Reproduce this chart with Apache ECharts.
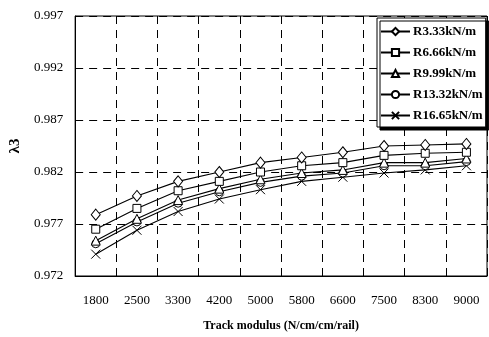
<!DOCTYPE html>
<html><head><meta charset="utf-8">
<script src="https://cdn.jsdelivr.net/npm/echarts@6/dist/echarts.min.js"></script>
<style>html,body{margin:0;padding:0;background:#fff}#c{width:489px;height:337px}</style>
</head><body><div id="c"></div>
<script>
const categories = ['1800','2500','3300','4200','5000','5800','6600','7500','8300','9000'];
const seriesNames = ['R3.33kN/m','R6.66kN/m','R9.99kN/m','R13.32kN/m','R16.65kN/m'];
const r333  = [0.9779,0.9797,0.9811,0.9820,0.9829,0.9834,0.9839,0.9845,0.9846,0.9847];
const r666  = [0.9765,0.9785,0.9802,0.9811,0.9820,0.9826,0.9829,0.9836,0.9838,0.9839];
const r999  = [0.9754,0.9775,0.9793,0.9804,0.9813,0.9819,0.9822,0.9829,0.9829,0.9833];
const r1332 = [0.9751,0.9772,0.9790,0.9801,0.9810,0.9816,0.9819,0.9826,0.9826,0.9830];
const r1665 = [0.9741,0.9764,0.9782,0.9794,0.9803,0.9811,0.9815,0.9819,0.9822,0.9826];
const yTicks = [0.972,0.977,0.982,0.987,0.992,0.997];

const symbols = ['diamond','rect','triangle','circle','path://M0,0L10,10M10,0L0,10'];
const sizes = [[9,11],8,[9,9],8,[9,9]];
const zs = [6,5,4,3,2];
const data = [r333,r666,r999,r1332,r1665];
const font = 'Liberation Serif';

const chart = echarts.init(document.getElementById('c'));
chart.setOption({
  animation:false,
  backgroundColor:'#fff',
  grid:{left:74,right:2,top:16,bottom:60,show:true,borderColor:'#000',borderWidth:1,backgroundColor:'transparent'},
  legend:{
    orient:'vertical',left:377,top:18,
    backgroundColor:'#fff',borderColor:'#000',borderWidth:1,
    shadowColor:'#000',shadowOffsetX:3,shadowOffsetY:3,shadowBlur:0,
    padding:[7,3,5,3],itemGap:8,itemWidth:29,itemHeight:9,
    textStyle:{fontFamily:font,fontSize:13,fontWeight:'bold',color:'#000',padding:[0,0,0,-2]},
    data:seriesNames
  },
  xAxis:{
    type:'category',data:categories,boundaryGap:true,
    axisLine:{lineStyle:{color:'#000',width:1}},
    axisTick:{show:false},
    axisLabel:{fontFamily:font,fontSize:13,color:'#000',margin:18,interval:0},
    splitLine:{show:true,interval:0,lineStyle:{color:'#000',type:[8,6],width:1}},
    name:'Track modulus (N/cm/cm/rail)',nameLocation:'middle',nameGap:44,
    nameTextStyle:{fontFamily:font,fontSize:12,fontWeight:'bold',color:'#000'}
  },
  yAxis:{
    type:'value',min:yTicks[0],max:yTicks[yTicks.length-1],interval:0.005,
    axisLine:{show:true,lineStyle:{color:'#000',width:1}},
    axisTick:{show:false},
    axisLabel:{fontFamily:font,fontSize:13,color:'#000',margin:12,formatter:v=>v.toFixed(3)},
    splitLine:{show:true,lineStyle:{color:'#000',type:[8,6],width:1}},
    name:'λ3',nameLocation:'middle',nameGap:40,nameRotate:90,
    nameTextStyle:{fontFamily:font,fontSize:15,fontWeight:'bold',color:'#000'}
  },
  series:seriesNames.map((n,i)=>({
    name:n,type:'line',data:data[i],
    symbol:symbols[i],symbolSize:sizes[i],showSymbol:true,
    lineStyle:{color:'#000',width:1.1},
    itemStyle:{color:'#fff',borderColor:'#000',borderWidth:1},
    emphasis:{disabled:true},z:zs[i]
  }))
});
</script></body></html>
